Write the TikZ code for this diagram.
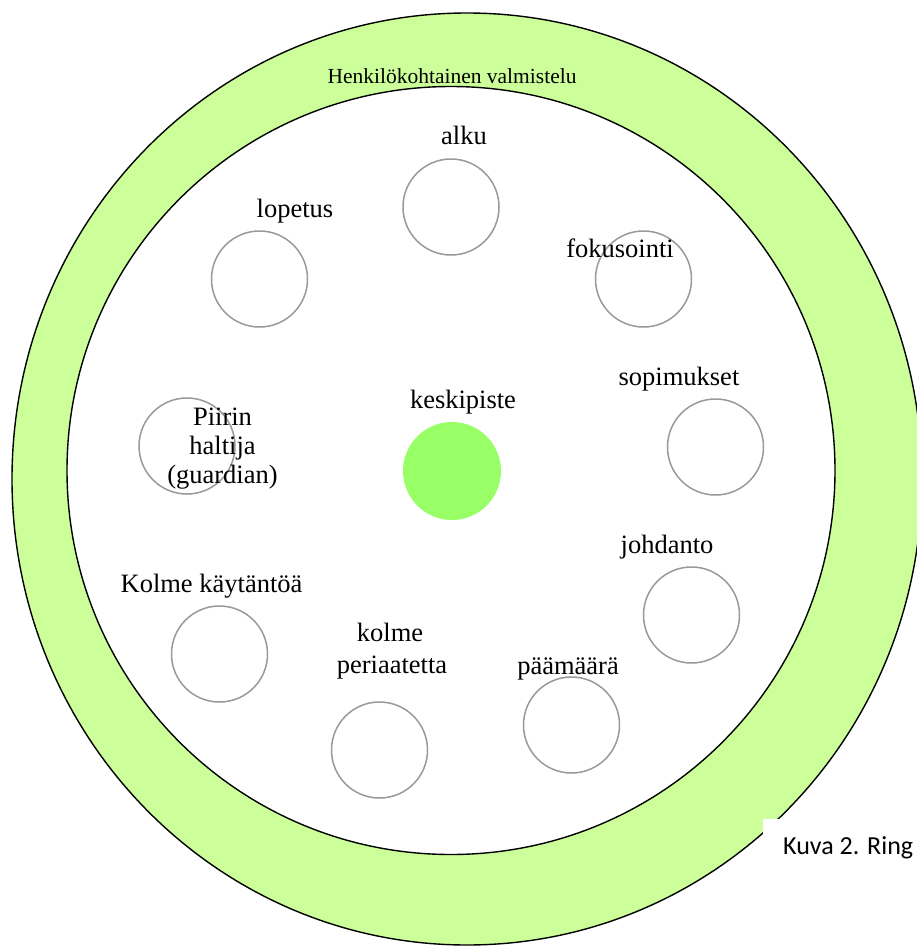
\documentclass[tikz,border=0pt]{standalone}
\usepackage{fontspec}
\setmainfont{Liberation Serif}
\newfontfamily\capfont{Carlito}
\definecolor{ringgreen}{HTML}{CCFF99}
\definecolor{centergreen}{HTML}{99FF66}
\definecolor{circgray}{HTML}{999999}
\begin{document}
\begin{tikzpicture}[x=1pt,y=-1pt,
  stage/.style={circle, draw=circgray, line width=1.5pt, minimum size=96pt, inner sep=0pt},
  hub/.style={circle, fill=centergreen, minimum size=98pt, inner sep=0pt},
  lbl/.style={anchor=base, inner sep=0pt, align=center, font=\fontsize{26.5}{29}\selectfont},
  ringline/.style={draw=black, line width=1.4pt}]
\useasboundingbox (0,0) rectangle (917,946);
\clip (0,0) rectangle (917,946);
% ring
\path[ringline, fill=ringgreen] (467,479) ellipse [x radius=455, y radius=466];
\path[ringline, fill=white] (451,470.5) circle [radius=384];
\node[anchor=base, inner sep=0pt, font=\fontsize{21.5}{24}\selectfont] (ringlbl) at (452,83) {Henkilökohtainen valmistelu};
% stage circles
\node[stage] (alku) at (451,207) {};
\node[stage] (lopetus) at (259.5,279) {};
\node[stage] (fokus) at (643.5,279) {};
\node[stage] (sopim) at (715.5,447) {};
\node[stage] (piiri) at (187,446) {};
\node[stage] (johd) at (691.5,615) {};
\node[stage] (kayt) at (219.5,654) {};
\node[stage] (peri) at (379.5,750) {};
\node[stage] (paam) at (571.5,725) {};
\node[hub] (keski) at (452,471) {};
% labels
\node[lbl] (lalku) at (464,144) {alku};
\node[lbl] (llopetus) at (295,217) {lopetus};
\node[lbl] (lfokus) at (620,257) {fokusointi};
\node[lbl] (lsopim) at (679,385) {sopimukset};
\node[lbl] (lkeski) at (463,408) {keskipiste};
\node[lbl] (lpiiri1) at (222.5,425) {Piirin};
\node[lbl] (lpiiri2) at (222.5,454) {haltija};
\node[lbl] (lpiiri3) at (222.5,483) {(guardian)};
\node[lbl] (ljohd) at (667,553) {johdanto};
\node[lbl] (lkayt) at (211.5,592) {Kolme käytäntöä};
\node[lbl] (lperi1) at (390,641) {kolme};
\node[lbl] (lperi2) at (392,673) {periaatetta};
\node[lbl] (lpaam) at (568,674) {päämäärä};
% caption box
\fill[white] (763,819) rectangle (917,946);
\node[anchor=base west, inner sep=0pt, font=\capfont\fontsize{26}{30}\selectfont] (caption) at (783,854) {Kuva 2. Ring};
\end{tikzpicture}
\end{document}
